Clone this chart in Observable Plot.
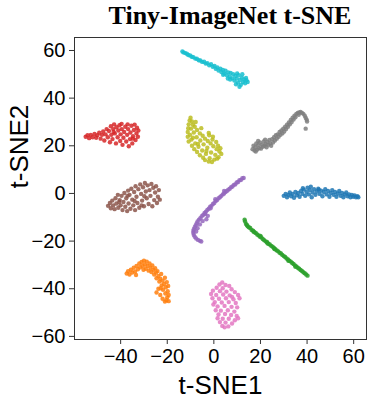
<!DOCTYPE html>
<html><head><meta charset="utf-8">
<script src="https://cdn.jsdelivr.net/npm/d3@7"></script>
<script src="https://cdn.jsdelivr.net/npm/@observablehq/plot@0.6"></script>
<style>
body{margin:0;background:#fff;width:368px;height:400px;overflow:hidden}
#title{box-sizing:border-box;height:36px;padding-top:3px;padding-left:92px;text-align:center;font:bold 26px/26px "Liberation Serif",serif;color:#000;white-space:nowrap}
</style></head><body>
<div id="title">Tiny-ImageNet t-SNE</div>
<div id="chart"></div>
<script>
const classNames = ["0","1","2","3","4","5","6","7","8","9"];
const classColors = ["#1f77b4","#ff7f0e","#2ca02c","#d62728","#9467bd","#8c564b","#e377c2","#7f7f7f","#bcbd22","#17becf"];
const xTicks = [-40,-20,0,20,40,60];
const yTicks = [-60,-40,-20,0,20,40,60];
const xLabel = "t-SNE1";
const yLabel = "t-SNE2";

const blue = [[30,-1],[30.8,-0.2],[31.4,-1.6],[32,-0.6],[32.6,0.4],[33.2,-1.2],[33.8,-0.2],[34.4,-1.8],[35,0.6],[35.6,-0.8],[36.2,0.2],[36.8,-1.4],[37.4,1],[38,-0.2],[38.6,1.6],[39.2,-1],[39.8,0.6],[40.2,2.4],[40.8,-0.4],[41.2,1.4],[41.6,2.8],[42,-1.6],[42.4,0.4],[43,1.8],[43.6,-0.6],[44.2,0.8],[44.8,2],[45.4,-0.2],[46,1.2],[46.6,-1.2],[47.2,0.6],[47.8,1.8],[48.4,-0.4],[49,1],[49.6,-1.4],[50.2,0.2],[50.8,1.4],[51.4,-0.6],[52,0.6],[52.6,-1.4],[53.2,0],[53.8,1],[54.4,-1],[55,0.2],[55.6,-1.6],[56.2,-0.4],[56.8,0.4],[57.4,-1.2],[58,-0.4],[58.6,-1.6],[59.2,-0.6],[59.8,-1.4],[60.4,-0.8],[61,-1.6],[61.6,-1.2],[62,-1.6],[38.2,2.2],[45,1.6]];
const orange = [[-37.4,-33.6],[-36.8,-32.6],[-36.2,-34],[-35.6,-32],[-35,-33.2],[-34.4,-31.2],[-33.8,-32.8],[-33.2,-30.4],[-32.6,-31.8],[-32,-29.4],[-31.6,-31],[-31,-28.8],[-30.6,-30.4],[-30,-28.2],[-29.6,-29.8],[-29.2,-31.6],[-28.8,-28.6],[-28.4,-30.4],[-28,-32.4],[-27.6,-29.4],[-27.2,-31.2],[-26.8,-33],[-26.4,-30.2],[-26,-32],[-25.6,-34],[-25.2,-31.4],[-24.8,-33.2],[-24.6,-35.6],[-24.2,-32.6],[-23.8,-34.6],[-23.4,-37],[-23,-35.8],[-22.6,-33.8],[-22.4,-38.6],[-22,-36.6],[-21.8,-40.4],[-21.4,-38],[-21,-35.4],[-20.8,-42],[-20.6,-39.4],[-20.2,-37.2],[-20,-43.6],[-19.8,-41],[-19.6,-38.8],[-19.4,-45.2],[-19.4,-42.6],[-23.8,-40],[-24.6,-41.6],[-23,-42.6],[-22,-44.2],[-21,-45.4],[-22.8,-39.8],[-20.4,-44.8],[-33.4,-34.2],[-30.2,-32]];
const green = [[13.2,-11],[13.4,-11.8],[13.8,-12.8],[14.2,-13.2],[14.5,-13.8],[15,-14.2],[15.6,-14.5],[16.2,-15.3],[16.8,-15.6],[17.4,-16.3],[18,-16.6],[18.6,-17.2],[19.2,-17.6],[19.8,-18.2],[20.4,-18.5],[21,-19.1],[21.6,-19.6],[22.2,-20.1],[22.8,-20.4],[23.4,-21.1],[24,-21.4],[24.6,-22],[25.2,-22.4],[25.8,-22.9],[26.4,-23.4],[27,-23.9],[27.6,-24.3],[28.2,-24.9],[28.8,-25.2],[29.4,-25.8],[30,-26.3],[30.6,-26.7],[31.2,-27.3],[31.8,-27.7],[32.4,-28.2],[33,-28.6],[33.6,-29.2],[34.2,-29.6],[34.8,-30.2],[35.4,-30.6],[36,-31.2],[36.6,-31.6],[37.2,-32.1],[37.8,-32.5],[38.4,-33.1],[39,-33.5],[39.6,-34],[40.2,-34.5],[20,-17.8],[26,-23.3],[32,-28.3],[35,-30.8],[17,-16],[23,-20.9]];
const red = [[-55,23.8],[-54.2,24.4],[-53.5,23.2],[-52.8,24.6],[-52,23.6],[-51.2,25],[-50.5,23.4],[-50,24.4],[-49.2,25.5],[-48.6,23],[-48,24.6],[-47.5,26],[-47,22.2],[-46.5,24.8],[-46,27],[-45.5,23.6],[-45,26.2],[-44.6,21.5],[-44.2,28.2],[-44,24.6],[-43.5,22.8],[-43.2,27],[-42.8,29],[-42.5,25.2],[-42,21],[-41.8,27.8],[-41.3,23.6],[-41,26.4],[-40.5,28.6],[-40.2,22],[-40,24.8],[-39.5,27],[-39.2,20.4],[-38.8,23.4],[-38.5,25.8],[-38,28],[-37.6,21.8],[-37.2,24.6],[-36.8,27],[-36.5,19.8],[-36,22.8],[-35.8,25.6],[-35.4,28.4],[-35,21],[-34.7,24],[-34.3,26.6],[-34,28.9],[-33.6,22.4],[-33.2,25.2],[-33,27.6],[-32.6,23.8],[-32.4,26.4],[-39.6,29.2],[-37,29],[-43,25.8],[-34.8,23]];
const purple = [[12.8,6.5],[12.2,6.4],[11.6,5.6],[11,5.6],[10.4,4.8],[9.8,4.6],[9.2,3.8],[8.6,3.6],[8,2.9],[7.4,2.6],[6.8,2],[6.2,1.6],[5.6,1],[5,0.6],[4.4,0],[3.8,-0.4],[3.2,-1],[2.6,-1.6],[2,-2],[1.4,-2.8],[0.8,-3.2],[0.2,-4],[-0.4,-4.4],[-1,-5.2],[-1.6,-5.6],[-2.2,-6.4],[-2.8,-6.9],[-3.4,-7.7],[-4,-8.2],[-4.6,-9],[-5.2,-9.6],[-5.8,-10.4],[-6.4,-11],[-7,-11.8],[-7.4,-12.6],[-7.8,-13.4],[-8.2,-14.2],[-8.6,-15],[-8.8,-15.8],[-8.8,-16.6],[-8.6,-17.4],[-8.2,-18.2],[-7.6,-18.9],[-6.8,-19.5],[-6,-19.9],[-5.4,-20.2],[-3.8,-8.6],[-1.4,-6.2],[-2.6,-9.4],[-3.2,-10.8],[-4.8,-11.6],[-6,-13],[-7,-14.6],[-7.6,-16],[0.6,-2.4],[4.4,1]];
const brown = [[-45.4,-5.2],[-44.6,-4],[-44.2,-6.2],[-43.6,-3],[-43.2,-5],[-42.6,-6.6],[-42.2,-2],[-41.8,-4.2],[-41.2,-0.6],[-41,-6],[-40.4,-2.8],[-40,-5],[-39.6,-1],[-39.2,-7],[-38.8,-3.6],[-38.4,0.2],[-38,-5.6],[-37.6,-2],[-37.2,-7.4],[-36.8,1.2],[-36.6,-4.2],[-36.2,-0.6],[-35.8,-6.4],[-35.4,2],[-35,-2.6],[-34.6,-5],[-34.2,0.6],[-33.8,-7],[-33.6,3],[-33.2,-1.4],[-32.8,-4],[-32.4,1.8],[-32,-6],[-31.6,3.8],[-31.2,-0.2],[-30.8,-3],[-30.4,2.6],[-30,-5.4],[-29.6,4.4],[-29.2,0.8],[-28.8,-2],[-28.4,3.4],[-28,-4.4],[-27.6,1.4],[-27.2,-1],[-26.8,4],[-26.4,-5.4],[-26,2.4],[-25.6,-2.8],[-25.2,0.4],[-24.8,3],[-24.4,-4],[-24,-1.4],[-23.6,1.4],[-23.2,-2.6],[-37,-1],[-34,-3.2],[-40.6,-3.6],[-29.8,-1.2],[-31,-5]];
const pink = [[3.6,-37.4],[2.4,-38.2],[5,-38.4],[6.6,-38.8],[1.2,-39.6],[3.8,-39.8],[7.6,-40.2],[-0.4,-40.8],[2.6,-41],[5.4,-41.2],[9,-41.4],[-1.2,-42.2],[1,-42.6],[4,-42.4],[6.8,-42.8],[10.4,-42.6],[-0.6,-44],[2.2,-44.2],[5.2,-44],[8.4,-44.4],[11,-44],[0.4,-45.6],[3.4,-45.8],[6.4,-45.6],[9.4,-46],[1.6,-47.4],[4.6,-47.2],[7.6,-47.6],[10,-47.8],[0.8,-49],[3,-49.2],[6,-49],[8.8,-49.6],[2,-50.8],[4.8,-50.6],[7.4,-51],[9.8,-51.4],[1.6,-52.4],[3.8,-52.6],[6.4,-52.6],[9,-53.2],[2.6,-54],[5,-54.2],[7.8,-54.6],[3.6,-55.6],[4.6,-56.2],[6.2,-55.8],[10.4,-52.4],[-0.2,-46.6],[7.8,-43.4]];
const gray = [[16.6,18.6],[17,20],[17.4,18],[17.8,19.4],[18.2,21],[18.6,18.4],[19,20.2],[19.4,19],[19.8,21.4],[20.2,18.8],[20.6,20.4],[21,19.6],[21.4,21.8],[21.8,20],[22.2,20.8],[22.6,19.4],[23,21.6],[23.4,20.4],[23.8,22.4],[24.2,21],[24.6,20],[25,22.8],[25.4,21.4],[25.8,23.6],[26.2,22.2],[26.6,24.4],[27,23],[27.4,24.8],[27.8,23.8],[28.2,25.8],[28.6,24.6],[29,26.4],[29.4,25.2],[29.8,27.2],[30.2,26],[30.6,28],[31,27],[31.4,28.8],[31.8,28],[32.2,29.8],[32.6,29],[33,30.8],[33.4,30],[33.8,31.8],[34.2,31],[34.6,32.6],[35,32],[35.4,33.4],[36,33.8],[36.6,34],[37.2,34.2],[37.8,33.8],[38.4,33.4],[39,32.6],[39.4,31.8],[39.8,31],[40,30.2],[39.4,27.2],[36.4,33],[22,22.6],[19,22],[18,17.6]];
const olive = [[-10,31.8],[-10.4,30.6],[-9.4,30.2],[-10.8,29],[-9,28.8],[-8.2,28],[-11,27.4],[-9.8,27.2],[-7.2,26.6],[-11.2,25.8],[-8.6,25.6],[-6,25.2],[-10.2,24.6],[-4.8,24.2],[-11.2,23.8],[-7.4,23.6],[-3.8,23],[-9.6,22.6],[-5.8,22.2],[-2.6,22],[-10.8,21.8],[-8,21],[-1.4,21],[-4.4,20.6],[-9.4,20],[-6.6,19.6],[-0.2,19.8],[-2.8,19.2],[-8.4,18.6],[1.2,18.6],[-5,18],[-7.2,17.4],[2.4,17.6],[-1.2,17.2],[-3.4,16.6],[3.2,16.6],[-6,16],[0.6,16.2],[-4.6,15],[2,15.2],[-1.8,14.8],[-3.8,14],[0.2,14.2],[-2.2,13.4],[-0.8,13.2],[1.4,14.6],[-6.8,20.8],[-2,24.4],[-9,23.4],[-3.2,17.8],[-5.4,27.4],[-7.8,30],[-0.6,22.6],[1.8,20],[-2.2,25.4],[-0.4,23.8],[1,21.6],[2.8,19]];
const cyan = [[-13.5,59.6],[-13,59.2],[-12.3,58.9],[-11.6,58.6],[-11,58.1],[-10.2,57.9],[-9.5,57.4],[-8.8,57.2],[-8,56.6],[-7.3,56.5],[-6.5,55.9],[-5.8,55.8],[-5,55.2],[-4.2,55.3],[-3.5,54.5],[-2.8,54.7],[-2,53.8],[-1.2,54.2],[-0.5,53.2],[0.3,53.5],[0.8,52.3],[1.5,52.9],[2,51.6],[2.8,52.4],[3.2,51],[3.9,51.8],[4.5,50.3],[5,51.5],[5.6,49.6],[6.2,50.8],[6.8,49],[7.2,50.6],[7.9,48.3],[8.3,50],[8.8,47.4],[9.2,49.3],[9.8,48.2],[10.3,46.5],[10.6,49.6],[11.2,47.6],[11.6,45.6],[12,48.6],[12.5,46.8],[13,47.8],[13.4,46.2],[14,47.5],[14.5,46.8],[9.5,45.8],[11,44.8],[7,47.8],[6,48.2],[13.8,48.5],[4,49.8],[12.2,50],[10,50.4]];

const seriesList = [blue, orange, green, red, purple, brown, pink, gray, olive, cyan];
const points = seriesList.flatMap((arr, i) => arr.map(([x, y]) => ({x, y, c: classNames[i]})));

const chart = Plot.plot({
  width: 368,
  height: 364,
  marginTop: 1,
  marginBottom: 61,
  marginLeft: 74,
  marginRight: 2,
  style: {fontFamily: "'Liberation Sans', Arial, sans-serif", color: "#000", background: "#fff"},
  x: {domain: [-59.8, 65.5]},
  y: {domain: [-61.3, 65.45]},
  color: {domain: classNames, range: classColors},
  marks: [
    Plot.frame({stroke: "#333", strokeWidth: 1}),
    Plot.axisX({ticks: xTicks, tickSize: 5, tickPadding: 4, fontSize: 20, label: null, stroke: "#333"}),
    Plot.axisY({ticks: yTicks, tickSize: 5, tickPadding: 4, fontSize: 20, label: null, stroke: "#333"}),
    Plot.dot(points, {x: "x", y: "y", fill: "c", r: 2.2, fillOpacity: 0.85, stroke: null}),
    Plot.text([xLabel], {text: d => d, frameAnchor: "bottom", lineAnchor: "bottom", dy: 54, fontSize: 26, fill: "#000"}),
    Plot.text([yLabel], {text: d => d, frameAnchor: "left", rotate: -90, dx: -55, fontSize: 26, fill: "#000"})
  ]
});
document.getElementById("chart").appendChild(chart);
</script>
</body></html>
